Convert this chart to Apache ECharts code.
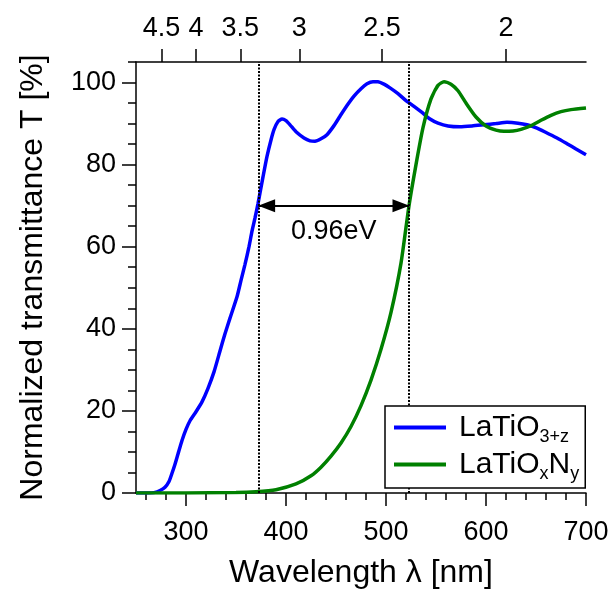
<!DOCTYPE html>
<html>
<head>
<meta charset="utf-8">
<script src="https://cdn.jsdelivr.net/npm/echarts@6/dist/echarts.min.js"></script>
<style>
html,body{margin:0;padding:0;background:#fff;}
#c{width:612px;height:594px;}
</style>
</head>
<body>
<div id="c"></div>
<script>
// ---- data ----
var lambdaBlue = [250,262,268,274,279,283,286,289,292,296,300,304,310,316,322,328,334,339,344,351,355,359,363,366,369,372,377,381,385,388,392,396,400,404,410,418,424,429,435,441,448,454,461,468,475,481,487,492,498,504,512,520,528,536,544,552,562,574,586,598,610,621,632,641,651,661,671,681,690,700];
var tBlue      = [0,0,0.1,0.6,1.4,2.8,4.8,7,9.5,12.8,15.5,17.6,19.8,22.2,25.5,29.5,34.6,38.8,42.6,47.8,51.8,55.7,60,63.8,67,70.5,77,82,86,88.5,90.5,91.1,90.7,89.7,88,86.5,85.8,85.7,86.3,87.3,89.5,91.8,94.4,96.7,98.5,99.7,100.2,100.2,99.6,98.7,97.3,95.6,94.2,92.7,91.1,90.1,89.4,89.2,89.4,89.7,90,90.3,90.1,89.7,88.9,87.7,86.5,85.1,83.8,82.4];
var lambdaGreen = [250,300,350,370,390,410,425,435,445,455,465,475,485,495,505,515,523,530,537,545,552,558,565,572,580,590,600,610,618,627,635,645,655,665,675,685,700];
var tGreen      = [0,0,0.1,0.3,0.8,2.2,4.2,6.3,9,12.2,16.2,21.3,27.5,35,44,56,70,80,89,96,99.3,100.2,99.6,98,95,91.6,89.4,88.4,88.1,88.2,88.6,89.5,90.8,92,92.9,93.4,93.8];
var seriesNames = ['LaTiO3+z', 'LaTiOxNy'];
var xTicksMajor = [300,400,500,600,700];
var xTicksMinor = [260,280,300,320,340,360,380,400,420,440,460,480,500,520,540,560,580,600,620,640,660,680,700];
var yTicksMajor = [0,20,40,60,80,100];
var yTicksMinor = [0,5,10,15,20,25,30,35,40,45,50,55,60,65,70,75,80,85,90,95,100,105];
var energyTicks = [4.5,4,3.5,3,2.5,2];
var gapLambda = [372.6, 523];
var arrowT = 70;
var gapLabel = '0.96eV';

function zip(a,b){return a.map(function(v,i){return [v,b[i]];});}
var eLam = energyTicks.map(function(e){return 1240/e;});

var FONT = 'Liberation Sans';
var chart = echarts.init(document.getElementById('c'), null, {renderer:'canvas'});
var axisLine = {show:true, onZero:false, lineStyle:{color:'#000', width:1.5}};
var option = {
  backgroundColor:'#fff',
  animation:false,
  textStyle:{fontFamily:FONT, color:'#000'},
  grid:{left:136, top:62, width:450, height:431},
  legend:{
    orient:'vertical', left:385, top:406, z:10,
    data:[{name:seriesNames[0], icon:'rect'},{name:seriesNames[1], icon:'rect'}],
    backgroundColor:'#fff', borderColor:'#000', borderWidth:1.5, borderRadius:0,
    padding:[3,6,5,9], itemGap:0, itemWidth:52, itemHeight:4,
    selectedMode:false,
    formatter:function(n){
      if(n==='LaTiO3+z') return '{p|}{n|LaTiO}{s|3+z}';
      return '{p|}{n|LaTiO}{s|x}{n|N}{s|y}';
    },
    textStyle:{fontFamily:FONT, color:'#000', rich:{
      p:{width:8},
      n:{fontFamily:FONT, fontSize:30, lineHeight:34, color:'#000'},
      s:{fontFamily:FONT, fontSize:18, lineHeight:18, padding:[19,0,0,0], color:'#000'}
    }}
  },
  xAxis:[
    {type:'value', position:'bottom', min:250, max:700, gridIndex:0,
     axisLine:axisLine, splitLine:{show:false},
     axisTick:{show:true, customValues:xTicksMajor, length:13, lineStyle:{color:'#000',width:1.5}},
     axisLabel:{customValues:xTicksMajor, fontSize:27, fontFamily:FONT, color:'#000', margin:26},
     name:'Wavelength λ [nm]', nameLocation:'middle', nameGap:64,
     nameTextStyle:{fontSize:32, fontFamily:FONT, color:'#000'}},
    {type:'value', position:'bottom', min:250, max:700, gridIndex:0,
     axisLine:{show:false}, splitLine:{show:false}, axisLabel:{show:false},
     axisTick:{show:true, customValues:xTicksMinor, length:7, lineStyle:{color:'#000',width:1.5}}},
    {type:'value', position:'top', min:250, max:700, gridIndex:0,
     axisLine:axisLine, splitLine:{show:false},
     axisTick:{show:true, customValues:eLam, length:13, lineStyle:{color:'#000',width:1.5}},
     axisLabel:{customValues:eLam, fontSize:27, fontFamily:FONT, color:'#000', margin:20,
       formatter:function(v){
         for(var i=0;i<energyTicks.length;i++){ if(Math.abs(1240/energyTicks[i]-v)<0.5) return String(energyTicks[i]); }
         return '';
       }}}
  ],
  yAxis:[
    {type:'value', position:'left', min:0, max:105, gridIndex:0,
     axisLine:axisLine, splitLine:{show:false},
     axisTick:{show:true, customValues:yTicksMajor, length:14, lineStyle:{color:'#000',width:1.5}},
     axisLabel:{customValues:yTicksMajor, fontSize:27, fontFamily:FONT, color:'#000', margin:20},
     name:'Normalized transmittance T [%]', nameLocation:'middle', nameGap:87,
     nameTextStyle:{fontSize:32, fontFamily:FONT, color:'#000'}},
    {type:'value', position:'left', min:0, max:105, gridIndex:0,
     axisLine:{show:false}, splitLine:{show:false}, axisLabel:{show:false},
     axisTick:{show:true, customValues:yTicksMinor, length:8, lineStyle:{color:'#000',width:1.5}}}
  ],
  series:[
    {name:seriesNames[0], type:'line', xAxisIndex:0, yAxisIndex:0, data:zip(lambdaBlue,tBlue),
     showSymbol:false, symbol:'none', smooth:0.2, lineStyle:{color:'#0000ff', width:3.5}, itemStyle:{color:'#0000ff'}, z:3,
     markLine:{silent:true, symbol:['none','none'], animation:false,
       lineStyle:{color:'#000', type:[2,1.5], width:2},
       label:{show:false},
       data:[{xAxis:gapLambda[0]},{xAxis:gapLambda[1]}]}},
    {name:seriesNames[1], type:'line', xAxisIndex:0, yAxisIndex:0, data:zip(lambdaGreen,tGreen),
     showSymbol:false, symbol:'none', smooth:0.2, lineStyle:{color:'#008000', width:3.5}, itemStyle:{color:'#008000'}, z:3,
     markLine:{silent:true, symbol:['triangle','triangle'], symbolSize:[13,17], symbolOffset:[[0,8],[0,8]], animation:false,
       lineStyle:{color:'#000', type:'solid', width:2},
       itemStyle:{color:'#000'},
       label:{show:true, formatter:gapLabel, position:'insideMiddleBottom', distance:12, fontSize:27, fontFamily:FONT, color:'#000'},
       data:[[{coord:[gapLambda[0],arrowT]},{coord:[gapLambda[1],arrowT]}]]}}
  ]
};
chart.setOption(option);
</script>
</body>
</html>
